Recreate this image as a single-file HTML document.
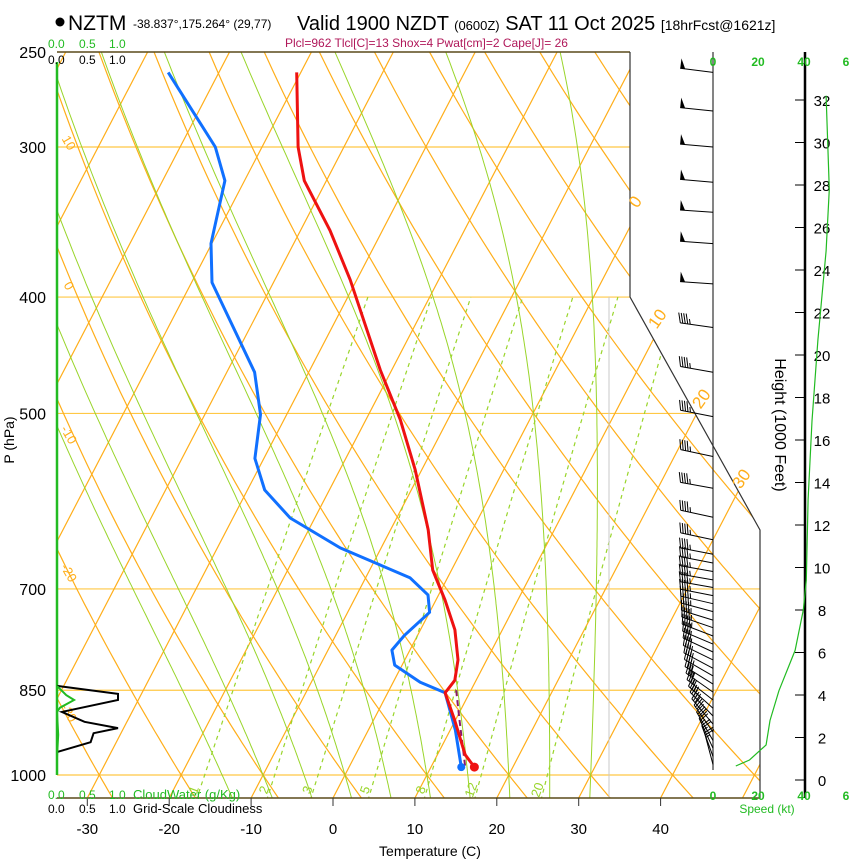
<!DOCTYPE html>
<html><head><meta charset="utf-8"><style>
html,body{margin:0;padding:0;background:#fff;}
svg{display:block;font-family:"Liberation Sans",sans-serif;}
</style></head><body>
<svg id="chart" width="850" height="860" viewBox="0 0 850 860" xmlns="http://www.w3.org/2000/svg">
<defs><clipPath id="plotclip"><polygon points="57,52 630,52 630,297 760,530 760,798 57,798"/></clipPath></defs>
<g>
<circle cx="60" cy="22" r="4.5" fill="#000"/>
<text x="68" y="30" font-size="21">NZTM</text>
<text x="133" y="28" font-size="12">-38.837°,175.264° (29,77)</text>
<text x="297" y="30" font-size="20">Valid 1900 NZDT <tspan font-size="13">(0600Z)</tspan> SAT 11 Oct 2025 <tspan font-size="14">[18hrFcst@1621z]</tspan></text>
<text x="285" y="47" font-size="12" fill="#b0185a">Plcl=962 Tlcl[C]=13 Shox=4 Pwat[cm]=2 Cape[J]= 26</text>
</g>
<g id="grid" clip-path="url(#plotclip)"></g>
<g id="data" clip-path="url(#plotclip)"></g>
<g id="frame"></g>
<g id="labels"></g>
</svg>
<script>
const NS="http://www.w3.org/2000/svg";
// ---- data ----
const tempP=[260,300,320,352,387,460,506,557,625,675,715,757,802,834,850,854,900,962,985];
const tempT=[-50.5,-45.6,-42.7,-36.4,-30.8,-21.4,-15.8,-10.8,-5.4,-2.3,1.1,4.2,6.5,7.4,7.1,7.0,9.9,13.4,15.3];
const dewP=[260,300,320,361,389,462,501,545,579,611,647,685,708,732,765,787,810,837,854,917,985];
const dewT=[-66.2,-55.7,-52.4,-50.1,-47.5,-36.6,-33.2,-31.1,-27.9,-23.0,-15.0,-4.6,-1.3,0.0,-1.6,-2.2,-0.9,3.3,7.0,10.6,13.7];
const parcelP=[850,900,983];
const parcelT=[8.2,10.5,14.1];
const isotherms=[-100,-90,-80,-70,-60,-50,-40,-30,-20,-10,0,10,20,30,40,50];
const dryTheta=[-30,-20,-10,0,10,20,30,40,50,60,70,80,90,100,110,120,130,140,150,160,170,180];
const moistTw=[-15,-10,-5,0,5,10,15,20,25,30];
const mixRatios=[1,2,3,5,8,12,20];
const pressureLevels=[250,300,400,500,700,850,1000];
const tempTicks=[-30,-20,-10,0,10,20,30,40];
const heightTicks=[0,2,4,6,8,10,12,14,16,18,20,22,24,26,28,30,32];
const cloudP=[843,856,866,886,903,914,923,939,957];
const cloudFrac=[0,1.0,1.0,0.08,0.45,1.0,0.6,0.55,0];
const cwP=[843,858,866,879,886,926,966];
const cwVal=[0,0.15,0.28,0.05,0,0.02,0];
const barbP=[260,280,300,321,340,361,390,424,462,503,543,577,610,637,655,666,677,688,698,709,720,731,743,754,766,778,790,802,815,827,840,853,866,880,893,907,921,936,950,965,980];
const barbSpd=[50,50,50,50,50,50,50,45,45,45,45,45,45,45,45,45,45,45,45,45,45,45,45,45,45,40,40,40,40,40,40,35,35,35,35,30,30,30,25,25,25];
const barbDir=[277,276,275,275,274,274,274,278,280,281,282,280,282,282,281,281,280,280,280,281,283,285,287,289,291,293,295,296,298,300,302,305,308,312,316,320,325,330,335,340,345];
const spdH=[0.66,0.94,1.65,2.8,4.2,6.1,8,9.4,13.2,16.9,20.7,24.9,27.8,32.2];
const spdKt=[10,16,23.3,25,28.9,36,39.6,40.9,41.7,43.4,46,49.6,51,49.6];
// ---- axes ----
const yP=p=>775-521.6*Math.log(1000/p);
const xT=(T,p)=>333+8.19*T+(798-yP(p))*0.52;
const xCloud=f=>57+f*61;
const yH=h=>780-h*21.25;
const xSpd=s=>713+s*2.28;
function mk(parent,tag,attrs,txt){const e=document.createElementNS(NS,tag);for(const k in attrs)e.setAttribute(k,attrs[k]);if(txt!==undefined)e.textContent=txt;parent.appendChild(e);return e;}
const grid=document.getElementById('grid'),data=document.getElementById('data'),frame=document.getElementById('frame'),labels=document.getElementById('labels');
function pathFrom(pts){return pts.map((q,i)=>(i?'L':'M')+q[0].toFixed(1)+','+q[1].toFixed(1)).join('');}
pressureLevels.forEach(p=>{const l=mk(grid,'line',{x1:57,x2:760,y1:yP(p),y2:yP(p),stroke:'#ffc845','stroke-width':1.2});


const t=mk(labels,'text',{x:46,y:yP(p)+6,'font-size':16,'text-anchor':'end'},String(p));

});
isotherms.forEach(T=>{const l=mk(grid,'line',{x1:xT(T,1060),y1:yP(1060),x2:xT(T,240),y2:yP(240),stroke:'#ffae1a','stroke-width':1.2});

});
dryTheta.forEach(th=>{const pts=[];for(let p=1060;p>=240;p-=10){const T=(th+273.15)*Math.pow(p/1000,0.286)-273.15;pts.push([xT(T,p),yP(p)]);}
const l=mk(grid,'path',{d:pathFrom(pts),fill:'none',stroke:'#ffae1a','stroke-width':1.2});

});
function es(Tc){return 6.112*Math.exp(17.67*Tc/(Tc+243.5));}
function dTdp(Tc,p){const T=Tc+273.15,e=es(Tc),rs=0.622*e/(p-e);return (287*T+2.5e6*rs)/(1005+2.5e6*2.5e6*rs*0.622/(287*T*T))/p;}
moistTw.forEach(tw=>{let T=tw,pts=[[xT(T,1000),yP(1000)]];for(let p=1000;p>240;p-=5){T-=dTdp(T,p)*5;pts.push([xT(T,p-5),yP(p-5)]);}
let T2=tw,low=[];for(let p=1000;p<1060;p+=5){T2+=dTdp(T2,p)*5;low.push([xT(T2,p+5),yP(p+5)]);}
const l=mk(grid,'path',{d:pathFrom(low.reverse().concat(pts)),fill:'none',stroke:'#99d52a','stroke-width':1});

});
mixRatios.forEach(w=>{const pts=[];for(let p=1050;p>=400;p-=10){const e=w*p/(622+w),L=Math.log(e/6.112),T=243.5*L/(17.67-L);pts.push([xT(T,p),yP(p)]);}
const l=mk(grid,'path',{d:pathFrom(pts),fill:'none',stroke:'#99d52a','stroke-width':1.2,'stroke-dasharray':'4,4'});


const e=w*1022/(622+w),L=Math.log(e/6.112),T=243.5*L/(17.67-L);
const t=mk(labels,'text',{x:0,y:0,'font-size':13,fill:'#99d52a','text-anchor':'middle',transform:`translate(${xT(T,1022)-3},${yP(1022)+5}) rotate(-70)`},String(w));

});
mk(grid,'line',{x1:609,y1:297,x2:609,y2:798,stroke:'#c8c8c8','stroke-width':1});
[[10,65,145],[0,65,288],[-10,65,437],[-20,65,575],[-30,65,715]].forEach(a=>{const t=mk(labels,'text',{transform:`translate(${a[1]},${a[2]}) rotate(60)`,'font-size':13,fill:'#ffae1a','text-anchor':'middle'},String(a[0]));

});
[[0,640,205],[10,662,322],[20,706,402],[30,746,482]].forEach(a=>{const t=mk(labels,'text',{transform:`translate(${a[1]},${a[2]}) rotate(-55)`,'font-size':17,fill:'#ffae1a','text-anchor':'middle'},String(a[0]));

});
function profile(P,T,color,w,dash,name){const pts=P.map((p,i)=>[xT(T[i],p),yP(p)]);const l=mk(data,'path',{d:pathFrom(pts),fill:'none',stroke:color,'stroke-width':w,'stroke-linejoin':'round'});if(dash)l.setAttribute('stroke-dasharray',dash);

return pts;}
profile(parcelP,parcelT,'#8b1a6b',2,'6,4','parcel-path');
const dp=profile(dewP,dewT,'#1070ff',3,null,'dewpoint-line');
const tp=profile(tempP,tempT,'#ee1111',3,null,'temperature-line');
const d1=mk(data,'circle',{cx:dp[dp.length-1][0],cy:dp[dp.length-1][1],r:4,fill:'#1070ff'});


const t1=mk(data,'circle',{cx:tp[tp.length-1][0],cy:tp[tp.length-1][1],r:4.5,fill:'#ee1111'});


const cl=mk(labels,'path',{d:pathFrom(cloudP.map((p,i)=>[xCloud(cloudFrac[i]),yP(p)])),fill:'none',stroke:'#000','stroke-width':2});


const cw=mk(labels,'path',{d:pathFrom(cwP.map((p,i)=>[xCloud(cwVal[i]),yP(p)])),fill:'none',stroke:'#22bb22','stroke-width':2});


[['M57,52L630,52','#5a4a1a',1.5],['M630,52L630,297L760,530L760,798','#333',1.2],['M57,798L760,798','#5a4a1a',1.5],['M57,62L57,775','#22bb22',2.5],['M713,52L713,770','#333',1.2],['M805,52L805,798','#000',2.5]].forEach(a=>{const l=mk(frame,'path',{d:a[0],fill:'none',stroke:a[1],'stroke-width':a[2]});

});
tempTicks.forEach(T=>{const x=333+8.19*T;mk(frame,'line',{x1:x,x2:x,y1:798,y2:806,stroke:'#333'});
const t=mk(labels,'text',{x:x,y:834,'font-size':15,'text-anchor':'middle'},String(T));

});
heightTicks.forEach(h=>{mk(frame,'line',{x1:795,x2:805,y1:yH(h),y2:yH(h),stroke:'#000'});
const t=mk(labels,'text',{x:822,y:yH(h)+6,'font-size':15,'text-anchor':'middle'},String(h));

});
const sp=mk(labels,'path',{d:pathFrom(spdH.map((h,i)=>[xSpd(spdKt[i]),yH(h)])),fill:'none',stroke:'#22bb22','stroke-width':1.2});


barbP.forEach((p,i)=>{const y=yP(p),a=(barbDir[i]-270)*Math.PI/180,ux=-Math.cos(a),uy=-Math.sin(a),nx=-uy,ny=ux;
const tipx=713+ux*33,tipy=y+uy*33;let d=`M713,${y.toFixed(1)}L${tipx.toFixed(1)},${tipy.toFixed(1)}`;
let s=barbSpd[i],pos=0,fills='';
while(s>=50){fills+=`M${tipx-ux*pos},${tipy-uy*pos}L${tipx-ux*pos+nx*10},${tipy-uy*pos+ny*10}L${tipx-ux*(pos+5)},${tipy-uy*(pos+5)}Z`;pos+=6;s-=50;}
while(s>=10){const bx=tipx-ux*pos,by=tipy-uy*pos;d+=`M${bx},${by}L${bx+nx*10+ux*3},${by+ny*10+uy*3}`;pos+=2.5;s-=10;}
if(s>=5){const bx=tipx-ux*pos,by=tipy-uy*pos;d+=`M${bx},${by}L${bx+nx*5+ux*1.5},${by+ny*5+uy*1.5}`;}
const g=mk(labels,'path',{d:d,fill:'none',stroke:'#000','stroke-width':1});


if(fills){const f=mk(labels,'path',{d:fills,fill:'#000'});

}});
</script>
<script>
const L=document.getElementById('labels');
function tx(x,y,s,txt,fill,anchor,extra){const e=document.createElementNS(NS,'text');e.setAttribute('x',x);e.setAttribute('y',y);e.setAttribute('font-size',s);e.setAttribute('fill',fill);e.setAttribute('text-anchor',anchor);if(extra)e.setAttribute('transform',extra);e.textContent=txt;L.appendChild(e);return e;}
let e;
[[48,'0.0'],[79,'0.5'],[109,'1.0']].forEach(a=>{let t=tx(a[0],48,12,a[1],'#22bb22','start');


t=tx(a[0],64,12,a[1],'#000','start');


t=tx(a[0],799,12,a[1],'#22bb22','start');


t=tx(a[0],813,12,a[1],'#000','start');

});
e=tx(133,799,13,'CloudWater (g/Kg)','#22bb22','start');


e=tx(133,813,13,'Grid-Scale Cloudiness','#000','start');


e=tx(430,856,14,'Temperature (C)','#000','middle');


e=tx(0,0,14,'P (hPa)','#000','middle','translate(14,440) rotate(-90)');


e=tx(0,0,16,'Height (1000 Feet)','#000','middle','translate(775,425) rotate(90)');


e=tx(767,813,12,'Speed (kt)','#22bb22','middle');


[[713,'0'],[758,'20'],[804,'40'],[846,'6']].forEach(a=>{let t=tx(a[0],66,12,a[1],'#22bb22','middle');


t.setAttribute('font-weight','bold');
t=tx(a[0],800,12,a[1],'#22bb22','middle');


t.setAttribute('font-weight','bold');});
</script>
</body></html>
